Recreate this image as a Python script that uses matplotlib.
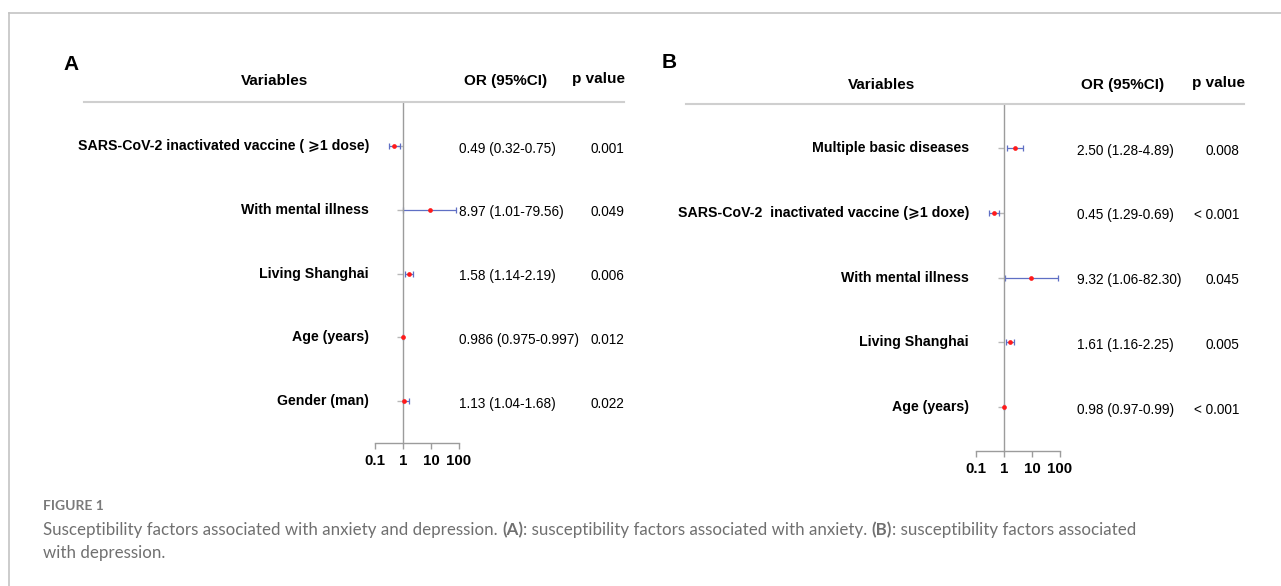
import numpy as np
import matplotlib.pyplot as plt
from matplotlib.lines import Line2D
from matplotlib import transforms

plt.rcParams['font.family'] = ['Liberation Sans', 'DejaVu Sans']

# Anxiety model
vars_a = ['SARS-CoV-2 inactivated vaccine ( \u2a7e1 dose)', 'With mental illness',
          'Living Shanghai', 'Age (years)', 'Gender (man)']
or_a = [0.49, 8.97, 1.58, 0.986, 1.13]
lo_a = [0.32, 1.01, 1.14, 0.975, 1.04]
hi_a = [0.75, 79.56, 2.19, 0.997, 1.68]
ci_a = ['0.49 (0.32-0.75)', '8.97 (1.01-79.56)', '1.58 (1.14-2.19)',
        '0.986 (0.975-0.997)', '1.13 (1.04-1.68)']
p_a = ['0.001', '0.049', '0.006', '0.012', '0.022']

# Depression model
vars_b = ['Multiple basic diseases', 'SARS-CoV-2  inactivated vaccine (\u2a7e1 doxe)',
          'With mental illness', 'Living Shanghai', 'Age (years)']
or_b = [2.50, 0.45, 9.32, 1.61, 0.98]
lo_b = [1.28, 0.29, 1.06, 1.16, 0.97]
hi_b = [4.89, 0.69, 82.30, 2.25, 0.99]
ci_b = ['2.50 (1.28-4.89)', '0.45 (1.29-0.69)', '9.32 (1.06-82.30)',
        '1.61 (1.16-2.25)', '0.98 (0.97-0.99)']
p_b = ['0.008', '< 0.001', '0.045', '0.005', '< 0.001']

xticks = [0.1, 1, 10, 100]
xtick_labels = ['0.1', '1', '10', '100']

W, H = 1281, 586
fig = plt.figure(figsize=(W / 100, H / 100), dpi=100)
fig.patch.set_facecolor('white')

GRAY = '#9c9c9c'
BLUE = '#5f6fc4'
RED = '#ff1a1a'


def fx(x):
    return x / W


def fy(y):
    return 1 - y / H


def forest(letter, names, ors, los, his, ci_txt, pvals, box, rows, cols, head_y):
    # box = (x of 0.1, x of 100, top, bottom) in pixels
    x0, x1, top, bot = box
    r0, r4 = rows
    step = (r4 - r0) / (len(names) - 1)
    ax = fig.add_axes([fx(x0), fy(bot), (x1 - x0) / W, (bot - top) / H])
    ax.patch.set_visible(False)

    y = np.arange(len(names))
    ors = np.array(ors)
    err = [ors - np.array(los), np.array(his) - ors]
    ax.errorbar(ors, y, xerr=err, fmt='none', ecolor=BLUE, elinewidth=0.9,
                capsize=2, capthick=0.9, zorder=2)
    ax.plot(ors, y, 'o', color=RED, ms=3.4, mec='none', zorder=3)

    ax.set_xscale('log')
    ax.set_xlim(0.1, 100)
    ax.set_ylim(4 + (bot - r4) / step, -(r0 - top) / step)
    ax.spines['left'].set_position(('data', 1))
    for s in ('top', 'right'):
        ax.spines[s].set_visible(False)
    for s in ('left', 'bottom'):
        ax.spines[s].set_color(GRAY)
        ax.spines[s].set_linewidth(1)
    ax.set_yticks(y)
    ax.set_yticklabels([])
    ax.tick_params(axis='y', length=4, width=1, color='#b8b8b8')
    ax.set_xticks(xticks)
    ax.set_xticklabels(xtick_labels)
    ax.xaxis.set_minor_locator(plt.NullLocator())
    ax.tick_params(axis='x', length=4, width=1, color=GRAY, pad=4, labelsize=10.8)
    for lab in ax.get_xticklabels():
        lab.set_fontweight('bold')

    # table columns
    lab_x, ci_x, p_x, var_hx, or_hx, p_hx, rule = cols
    tr = transforms.blended_transform_factory(fig.transFigure, ax.transData)
    for i in range(len(names)):
        ax.text(fx(lab_x), y[i], names[i], transform=tr, ha='right', va='center',
                fontsize=10.2, fontweight='bold')
        ax.text(fx(ci_x), y[i] + 0.04, ci_txt[i], transform=tr, ha='left', va='center',
                fontsize=9.8)
        ax.text(fx(p_x), y[i] + 0.04, pvals[i], transform=tr, ha='right', va='center',
                fontsize=9.8)

    fig.text(fx(var_hx), fy(head_y + 1), 'Variables', ha='center', va='center',
             fontsize=11, fontweight='bold')
    fig.text(fx(or_hx), fy(head_y + 1), 'OR (95%CI)', ha='center', va='center',
             fontsize=11, fontweight='bold')
    fig.text(fx(p_hx), fy(head_y - 1), 'p value', ha='center', va='center',
             fontsize=11, fontweight='bold')
    fig.add_artist(Line2D([fx(rule[0]), fx(rule[1])], [fy(top), fy(top)],
                          color='#cfcfcf', lw=1.5))
    fig.text(fx(letter[1]), fy(letter[2]), letter[0], ha='center', va='center',
             fontsize=15, fontweight='bold')
    return ax


forest(('A', 71, 65), vars_a, or_a, lo_a, hi_a, ci_a, p_a,
       (375, 459, 102, 443), (146, 401),
       (369, 459, 624, 275, 506, 599, (84, 624)), 80)
forest(('B', 669, 63), vars_b, or_b, lo_b, hi_b, ci_b, p_b,
       (976, 1060, 104, 451), (148, 407),
       (969, 1077, 1239, 882, 1123, 1219, (686, 1244)), 84)

# outer frame (top and left edges)
fig.add_artist(Line2D([fx(9), 1], [fy(13), fy(13)], color='#c4c4c4', lw=1.2))
fig.add_artist(Line2D([fx(9), fx(9)], [fy(13), 0], color='#c4c4c4', lw=1.2))

# caption
CAP = '#707070'
cap_font = ['Lato', 'DejaVu Sans']
fig.text(fx(43), fy(506), 'FIGURE 1', ha='left', va='center', fontsize=10,
         fontweight='bold', color='#7a7a7a', family=cap_font)

pieces = [('Susceptibility factors associated with anxiety and depression. ', 'normal'),
          ('(A)', 'bold'),
          (': susceptibility factors associated with anxiety. ', 'normal'),
          ('(B)', 'bold'),
          (': susceptibility factors associated', 'normal')]
renderer = fig.canvas.get_renderer()
xpos = 43
for txt, wt in pieces:
    t = fig.text(fx(xpos), fy(530), txt, ha='left', va='center', fontsize=12.2,
                 fontweight=wt, color=CAP, family=cap_font)
    xpos += t.get_window_extent(renderer).width
fig.text(fx(43), fy(553), 'with depression.', ha='left', va='center', fontsize=12.2,
         color=CAP, family=cap_font)

fig.savefig('out.png', dpi=100)
